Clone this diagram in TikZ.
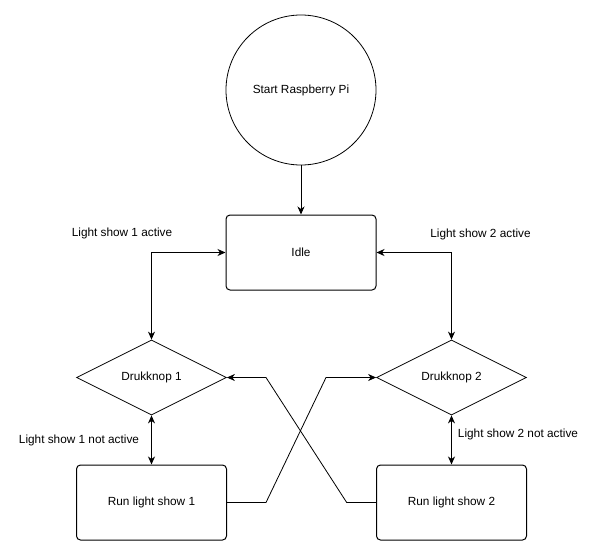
\documentclass[tikz,border=0pt]{standalone}
\usepackage{fontspec}
\setmainfont{Liberation Sans}
\usetikzlibrary{arrows.meta,shapes.geometric}
\begin{document}
\begin{tikzpicture}[x=1pt,y=-1pt,
  every node/.style={font=\fontsize{11.8}{14}\selectfont},
  box/.style={draw,line width=1pt,rectangle,rounded corners=4pt,minimum width=150pt,minimum height=75pt,inner sep=0pt},
  dia/.style={draw,line width=0.8pt,diamond,aspect=2,minimum width=150pt,minimum height=75pt,inner sep=0pt},
  startc/.style={draw,line width=0.8pt,circle,minimum size=150pt,inner sep=0pt},
  conn/.style={line width=1pt,-{Stealth[length=8pt,width=7pt,inset=2.5pt]}},
  bconn/.style={line width=1pt,{Stealth[length=8pt,width=7pt,inset=2.5pt]}-{Stealth[length=8pt,width=7pt,inset=2.5pt]}},
  xconn/.style={line width=0.8pt,-{Stealth[length=8pt,width=7pt,inset=2.5pt]}},
  lbl/.style={inner sep=0pt}]
\useasboundingbox (0,0) rectangle (597,555);
\node[startc] (start) at (301,90) {Start Raspberry Pi};
\node[box] (idle) at (301,252.5) {Idle};
\node[dia] (d1) at (151.5,377.5) {Drukknop 1};
\node[dia] (d2) at (451.5,377.5) {Drukknop 2};
\node[box] (r1) at (151.5,502.5) {Run light show 1};
\node[box] (r2) at (451.5,502.5) {Run light show 2};
\node[lbl] (l1) at (122,233.5) {Light show 1 active};
\node[lbl] (l2) at (480.5,234.5) {Light show 2 active};
\node[lbl] (l3) at (79,440) {Light show 1 not active};
\node[lbl] (l4) at (518,434.5) {Light show 2 not active};
\coordinate (a1) at (266,502.5);
\coordinate (a2) at (326,377.5);
\coordinate (b1) at (346.7,502.5);
\coordinate (b2) at (266,377.5);
\draw[conn] (start.south) -- (idle.north);
\draw[bconn] (idle.west) -| (d1.north);
\draw[bconn] (idle.east) -| (d2.north);
\draw[bconn] (d1.south) -- (r1.north);
\draw[bconn] (d2.south) -- (r2.north);
\draw[xconn] (r1.east) -- (a1) -- (a2) -- (d2.west);
\draw[xconn] (r2.west) -- (b1) -- (b2) -- (d1.east);
\end{tikzpicture}
\end{document}
